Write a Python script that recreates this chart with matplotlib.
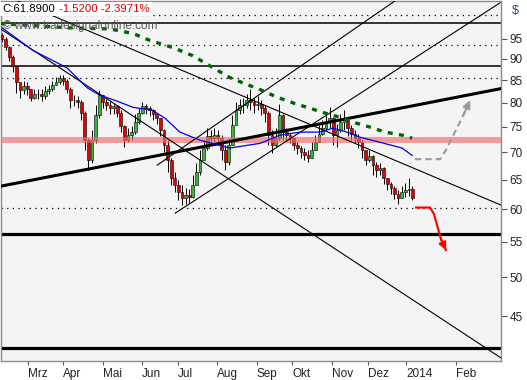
import matplotlib.pyplot as plt
from matplotlib.ticker import NullLocator

# candles (every 2nd trading day), Feb 2013 - early Jan 2014
opens = [96.0, 95.1, 93.0, 90.6, 88.2, 84.5, 82.7, 83.6, 83.1, 81.1,
         82.0, 81.8, 81.4, 82.5, 82.9, 84.0, 84.7, 85.4, 84.9, 83.1,
         80.5, 80.5, 80.1, 77.9, 72.3, 68.5, 72.3, 77.3, 81.6, 80.1,
         79.6, 78.8, 79.2, 77.9, 75.1, 72.3, 73.3, 73.9, 75.9, 77.9,
         79.2, 78.8, 78.4, 77.5, 76.7, 74.3, 71.3, 68.5, 65.3, 64.1,
         62.9, 61.9, 62.4, 62.0, 64.1, 66.3, 68.5, 70.8, 73.1, 72.7,
         73.3, 72.7, 70.4, 68.1, 71.3, 75.3, 78.4, 79.4, 79.6, 80.5,
         80.1, 79.4, 79.8, 78.8, 77.9, 73.3, 71.3, 72.7, 77.3, 73.9,
         73.3, 72.7, 71.3, 70.8, 70.0, 69.4, 68.9, 70.4, 71.9, 73.5,
         74.7, 75.9, 76.7, 73.3, 74.3, 75.9, 76.3, 74.7, 73.5, 72.7,
         71.9, 70.4, 68.5, 69.3, 67.6, 66.7, 67.1, 65.3, 64.2, 63.5,
         62.5, 61.9, 62.9, 63.2, 63.41]
highs = [96.6, 95.6, 93.1, 90.9, 88.4, 84.5, 84.9, 84.5, 83.1, 82.9,
         83.1, 82.9, 83.6, 84.0, 84.9, 85.8, 86.3, 86.1, 85.2, 83.4,
         81.6, 81.4, 80.5, 78.2, 72.7, 74.3, 79.4, 82.7, 81.6, 80.9,
         80.3, 79.8, 79.2, 78.4, 75.4, 74.7, 75.1, 77.5, 78.8, 80.1,
         79.8, 79.2, 78.6, 77.9, 76.7, 74.6, 72.3, 68.9, 66.3, 64.9,
         64.1, 63.5, 63.4, 65.8, 68.0, 70.4, 72.3, 74.7, 74.3, 74.7,
         74.3, 73.3, 71.3, 72.7, 77.3, 80.1, 80.9, 81.1, 82.0, 83.1,
         81.1, 81.4, 80.5, 79.6, 78.3, 74.3, 74.7, 79.8, 77.6, 74.7,
         73.7, 72.7, 71.9, 71.1, 70.8, 70.4, 71.9, 73.3, 75.3, 76.3,
         77.3, 79.0, 77.0, 75.5, 77.5, 78.4, 76.7, 75.3, 74.3, 73.5,
         72.3, 70.4, 70.4, 69.5, 68.1, 68.0, 67.3, 65.3, 64.6, 63.9,
         63.2, 63.9, 64.4, 65.3, 63.9]
lows = [94.1, 92.1, 89.6, 86.8, 82.2, 81.1, 82.0, 81.6, 80.3, 80.9,
        80.7, 80.3, 80.9, 82.0, 82.5, 83.8, 84.2, 84.0, 82.2, 78.8,
        79.2, 78.8, 76.3, 70.4, 66.7, 68.0, 71.8, 76.8, 78.8, 78.4,
        77.7, 77.7, 76.9, 73.9, 70.9, 71.9, 72.3, 73.5, 75.5, 77.7,
        77.7, 77.1, 76.3, 75.5, 73.1, 70.0, 66.3, 64.1, 62.9, 61.5,
        60.7, 60.9, 61.0, 61.9, 64.1, 65.8, 68.5, 70.4, 71.3, 71.9,
        71.7, 68.5, 66.7, 67.6, 71.3, 75.3, 77.7, 77.9, 78.8, 78.4,
        77.9, 78.4, 77.3, 75.9, 71.3, 69.8, 70.9, 72.3, 72.3, 72.1,
        71.7, 70.4, 69.6, 68.9, 68.5, 68.1, 68.9, 70.4, 71.9, 73.3,
        74.3, 74.7, 71.3, 70.9, 73.9, 74.3, 73.1, 72.3, 71.7, 70.8,
        68.9, 67.6, 68.1, 65.8, 65.5, 65.8, 64.2, 63.2, 62.5, 61.7,
        60.9, 61.9, 62.0, 62.2, 61.5]
closes = [95.1, 93.0, 90.6, 88.2, 84.5, 82.7, 83.6, 83.1, 81.1, 82.0,
          81.8, 81.4, 82.5, 82.9, 84.0, 84.7, 85.4, 84.9, 83.1, 80.5,
          80.5, 80.1, 77.9, 72.3, 68.5, 72.3, 77.3, 81.6, 80.1, 79.6,
          78.8, 79.2, 77.9, 75.1, 72.3, 73.3, 73.9, 75.9, 77.9, 79.2,
          78.8, 78.4, 77.5, 76.7, 74.3, 71.3, 68.5, 65.3, 64.1, 62.9,
          61.9, 62.4, 62.0, 64.1, 66.3, 68.5, 70.8, 73.1, 72.7, 73.3,
          72.7, 70.4, 68.1, 71.3, 75.3, 78.4, 79.4, 79.6, 80.5, 80.1,
          79.4, 79.8, 78.8, 77.9, 73.3, 71.3, 72.7, 77.3, 73.9, 73.3,
          72.7, 71.3, 70.8, 70.0, 69.4, 68.9, 70.4, 71.9, 73.5, 74.7,
          75.9, 76.7, 73.3, 74.3, 75.9, 76.3, 74.7, 73.5, 72.7, 71.9,
          70.4, 68.5, 69.3, 67.6, 66.7, 67.1, 65.3, 64.2, 63.5, 62.5,
          61.9, 62.9, 63.2, 63.41, 61.89]

# moving averages (x = candle index)
ma_fast_x = [0, 8.6, 18, 23.6, 27.2, 31.4, 36.4, 41.7, 45.3, 49.4, 55, 63.3,
             71.7, 77.2, 82.8, 88.3, 91.9, 95.8, 99.4, 105, 111.1, 113.9]
ma_fast = [97.9, 92.1, 87.9, 83.3, 81.6, 80.5, 79.0, 78.4, 76.7, 73.9, 72.3, 70.8,
           71.7, 73.3, 73.9, 73.9, 74.7, 73.9, 72.9, 71.9, 70.8, 69.4]
ma_slow_x = [-0.6, 8.6, 18, 30, 36.4, 41.1, 47.5, 53, 58.6, 63.3, 67.5, 72.2,
             76.7, 81.4, 85.6, 89.2, 93.9, 97.5, 102.2, 106.4, 111.1, 113.9]
ma_slow = [99.0, 98.5, 97.9, 97.6, 96.4, 94.6, 92.8, 90.8, 87.9, 85.6, 84.2, 82.7,
           81.1, 79.8, 78.8, 77.9, 76.9, 75.9, 74.9, 73.9, 73.3, 72.7]

# month ticks (candle index) and labels
month_pos = [7.2, 16.9, 28.1, 38.9, 48.9, 59.7, 70.8, 80.6, 91.7, 101.7, 112.2, 126.1]
month_labels = ["Mrz", "Apr", "Mai", "Jun", "Jul", "Aug", "Sep", "Okt", "Nov", "Dez", "2014", "Feb"]
price_ticks = [45, 50, 55, 60, 65, 70, 75, 80, 85, 90, 95]

# drawn levels / trendlines
solid_levels = [99.3, 88.2]
dotted_levels = [101.4, 93.5, 85.5, 60.3]
thick_levels = [56.2, 41.3]
band = (71.7, 72.9)
thin_lines = [((-0.56, 97.7), (138.6, 40.2)),
              ((4.2, 105.3), (138.6, 60.7)),
              ((43.1, 67.6), (109.2, 105.3)),
              ((48.1, 59.4), (138.3, 104.7))]
thick_line = ((-0.56, 63.85), (138.6, 83.1))
red_path_x = [115.0, 118.9, 120.0, 121.9, 123.3]
red_path_y = [60.3, 60.3, 59.2, 55.4, 53.75]
gray_path_x = [114.7, 121.7, 123.3, 125.8, 128.1, 130.0]
gray_path_y = [68.7, 68.7, 70.4, 73.9, 77.3, 80.5]

plt.rcParams['font.family'] = ['Liberation Sans', 'DejaVu Sans']

fig = plt.figure(figsize=(5.27, 3.80), dpi=100)
ax = fig.add_axes([0.001, 0.05, 0.9497, 0.948])
ax.set_facecolor('#f4f4f4')
ax.set_yscale('log')
ax.set_ylim(39.87, 105.3)
ax.set_xlim(-0.42, 138.6)

for v in solid_levels:
    ax.axhline(v, color='black', lw=1.1, zorder=1)
for v in dotted_levels:
    ax.axhline(v, color='black', lw=0.9, ls=(0, (1, 3.5)), zorder=1)
for v in thick_levels:
    ax.axhline(v, color='black', lw=2.3, zorder=1)

# candles
for i in range(len(closes)):
    up = closes[i] >= opens[i]
    ax.vlines(i, lows[i], highs[i], color='black', lw=0.7, zorder=2)
    ax.bar(i, closes[i] - opens[i], bottom=opens[i], width=0.75,
           color='#3cb43c' if up else '#e80000', edgecolor='black', lw=0.4, zorder=3)

ax.axhspan(band[0], band[1], color='#f46a6a', alpha=0.65, lw=0, zorder=4)

for (x0, y0), (x1, y1) in thin_lines:
    ax.plot([x0, x1], [y0, y1], color='black', lw=0.8, zorder=5)
ax.plot([thick_line[0][0], thick_line[1][0]], [thick_line[0][1], thick_line[1][1]],
        color='black', lw=2.2, zorder=5)

ax.plot(ma_fast_x, ma_fast, color='#0000ee', lw=0.9, zorder=6)
ax.plot(ma_slow_x, ma_slow, color='#006400', lw=2.4, ls=(0, (1.5, 1.9)), zorder=6)

ax.plot(red_path_x, red_path_y, color='red', lw=1.5, zorder=7)
ax.annotate('', xy=(red_path_x[-1], red_path_y[-1]), xytext=(red_path_x[-2], red_path_y[-2]),
            arrowprops=dict(arrowstyle='-|>', color='red', lw=1.5, mutation_scale=11,
                            shrinkA=0, shrinkB=0), zorder=7)
ax.plot(gray_path_x, gray_path_y, color='#9a9a9a', lw=1.5, ls=(0, (3, 2)), zorder=7)
ax.annotate('', xy=(gray_path_x[-1], gray_path_y[-1]), xytext=(gray_path_x[-2], gray_path_y[-2]),
            arrowprops=dict(arrowstyle='-|>', color='#9a9a9a', lw=1.5, mutation_scale=11,
                            shrinkA=0, shrinkB=0), zorder=7)

# axes
for s in ax.spines.values():
    s.set_color('#8c8c8c')
    s.set_linewidth(1)
ax.yaxis.tick_right()
ax.set_yticks(price_ticks)
ax.set_yticklabels([str(t) for t in price_ticks])
ax.yaxis.set_minor_locator(NullLocator())
ax.tick_params(axis='y', direction='out', length=4, width=0.8, pad=2,
               labelsize=8.5, color='#555555', labelcolor='#222222')
ax.set_xticks(month_pos)
ax.set_xticklabels(month_labels)
ax.tick_params(axis='x', direction='out', length=3, width=0.8, pad=2,
               labelsize=8.5, color='#555555', labelcolor='#222222')
for lbl in ax.get_xticklabels():
    lbl.set_horizontalalignment('left')

fig.text(512 / 527, 1 - 11 / 380, '$', color='#22448a', fontsize=9, ha='left', va='center')
fig.text(2 / 527, 1 - 9 / 380, 'C:61.8900', color='black', fontsize=8.2, va='center',
         bbox=dict(facecolor='white', edgecolor='none', pad=1.5))
fig.text(59 / 527, 1 - 9 / 380, '-1.5200 -2.3971%', color='#e00000', fontsize=8.2, va='center',
         bbox=dict(facecolor='white', edgecolor='none', pad=1.5))
fig.text(3 / 527, 1 - 26 / 380, '\u00a9 www.tradesignalonline.com', color='#5a5a5a',
         fontsize=8.5, va='center', zorder=1)

fig.savefig('out.png', dpi=100)
